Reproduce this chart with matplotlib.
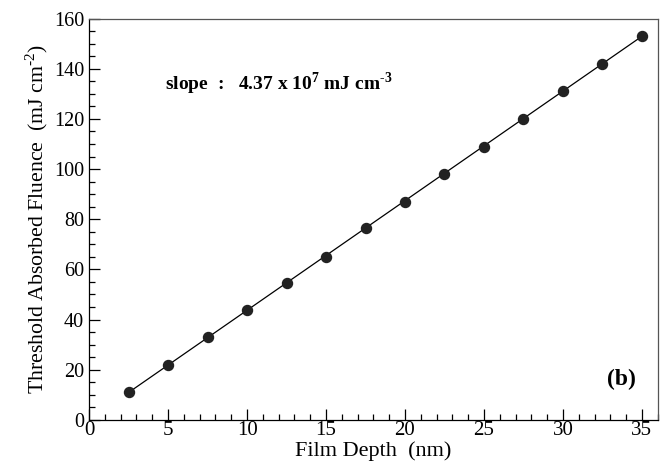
import matplotlib
matplotlib.use('Agg')
import matplotlib.pyplot as plt
import numpy as np
from matplotlib.ticker import MultipleLocator

plt.rcParams['font.family'] = ['Liberation Serif', 'DejaVu Serif']
plt.rcParams['mathtext.fontset'] = 'custom'
plt.rcParams['mathtext.rm'] = 'Liberation Serif'
plt.rcParams['mathtext.bf'] = 'Liberation Serif:bold'

# film depth (nm) and threshold absorbed fluence (mJ cm^-2)
depth = [2.5, 5, 7.5, 10, 12.5, 15, 17.5, 20, 22.5, 25, 27.5, 30, 32.5, 35]
fluence = [11, 22, 33, 44, 54.5, 65, 76.5, 87, 98, 109, 120, 131, 142, 153]
slope = 4.37  # x 10^7 mJ cm^-3, i.e. mJ cm^-2 per nm

fig = plt.figure(figsize=(6.65, 4.66), dpi=100)
ax = fig.add_axes([0.134, 0.099, 0.855, 0.861])

fitX = np.array([depth[0], depth[-1]])
ax.plot(fitX, slope*fitX, color='black', lw=0.9, zorder=2)
ax.plot(depth, fluence, 'o', color='#222222', markersize=7.2, zorder=3)

ax.set_xlim(0, 36)
ax.set_ylim(0, 160)
ax.xaxis.set_major_locator(MultipleLocator(5))
ax.xaxis.set_minor_locator(MultipleLocator(1))
ax.yaxis.set_major_locator(MultipleLocator(20))
ax.yaxis.set_minor_locator(MultipleLocator(5))
ax.tick_params(which='both', direction='in', top=False, right=False, labelsize=14.5)
ax.tick_params(axis='x', labelsize=15, pad=1)
ax.tick_params(which='major', length=8, width=0.9)
ax.tick_params(which='minor', length=4, width=0.9)
for s in ax.spines.values():
    s.set_linewidth(0.9)
ax.spines['top'].set_color('#555555')
ax.spines['right'].set_color('#555555')

ax.set_xlabel('Film Depth  (nm)', fontsize=16, labelpad=0.5)
ax.set_ylabel('Threshold Absorbed Fluence  (mJ cm$^{\u20102}$)', fontsize=15.7, labelpad=3)

ax.text(4.8, 134, 'slope  :   4.37 x 10$^{\\mathbf{7}}$ mJ cm$^{\\mathbf{\u20103}}$',
        fontsize=14, fontweight='bold', va='center', ha='left')
ax.text(33.7, 16, '(b)', fontsize=17, fontweight='bold', ha='center', va='center')

fig.savefig('out.png', dpi=100)
